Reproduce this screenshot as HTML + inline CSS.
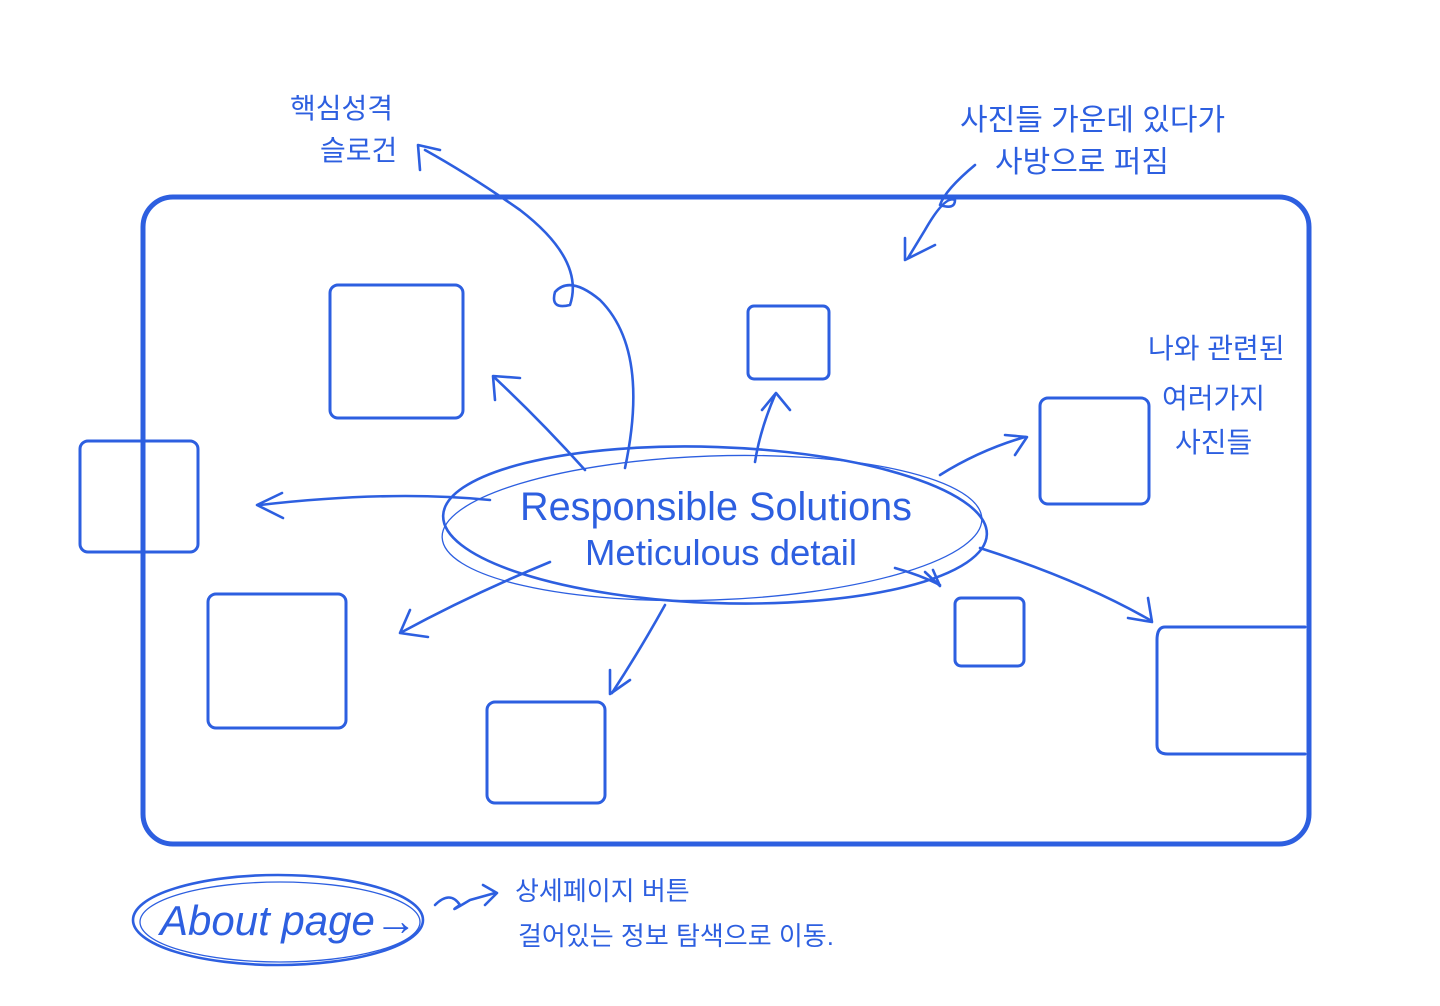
<!DOCTYPE html>
<html><head><meta charset="utf-8"><style>
html,body{margin:0;padding:0;background:#fff;width:1440px;height:1006px;overflow:hidden}
svg{display:block}
text{fill:#2d5fe0;font-family:"Liberation Sans","Noto Sans CJK KR",sans-serif}
</style></head><body>
<svg width="1440" height="1006" viewBox="0 0 1440 1006" xmlns="http://www.w3.org/2000/svg">
<g fill="none" stroke="#2d5fe0" stroke-linecap="round" stroke-linejoin="round">
<rect x="143" y="197" width="1166" height="647" rx="30" stroke-width="5"/>
<g stroke-width="3">
<rect x="330" y="285" width="133" height="133" rx="8"/>
<rect x="748" y="306" width="81" height="73" rx="6"/>
<rect x="80" y="441" width="118" height="111" rx="8"/>
<rect x="1040" y="398" width="109" height="106" rx="8"/>
<rect x="208" y="594" width="138" height="134" rx="8"/>
<rect x="487" y="702" width="118" height="101" rx="8"/>
<rect x="955" y="598" width="69" height="68" rx="6"/>
<path d="M1305 627 H1165 Q1157 627 1157 640 V745 Q1157 754 1168 754 H1305"/>
</g>
<g stroke-width="2.6">
<ellipse cx="715" cy="525" rx="272" ry="78" transform="rotate(2 715 525)"/>
<ellipse cx="712" cy="528" rx="270" ry="72" transform="rotate(-2 712 528)" stroke-width="1.3"/>
<path d="M585 470 Q540 420 495 378"/><path d="M495 400 L493 376 L520 378"/>
<path d="M755 462 Q760 430 775 395"/><path d="M762 410 L776 393 L790 410"/>
<path d="M490 500 Q390 490 260 505"/><path d="M282 493 L257 505 L283 518"/>
<path d="M940 475 Q980 450 1025 437"/><path d="M1005 435 L1027 437 L1015 455"/>
<path d="M550 562 Q470 595 402 632"/><path d="M410 610 L400 633 L428 637"/>
<path d="M665 605 Q640 650 612 693"/><path d="M610 670 L610 694 L630 680"/>
<path d="M895 568 Q920 575 940 585"/><path d="M925 572 L940 586 L933 570"/>
<path d="M980 548 Q1080 580 1150 620"/><path d="M1128 618 L1152 622 L1148 598"/>
<path d="M625 468 Q650 350 600 300 Q570 275 555 292 Q550 310 570 305 Q585 260 520 210 Q470 175 425 150"/><path d="M420 170 L418 145 L440 150"/>
<path d="M975 165 Q945 190 940 205 Q955 210 955 200 Q945 195 925 230 L908 258"/><path d="M905 238 L905 260 L935 245"/>
<ellipse cx="278" cy="920" rx="145" ry="45"/>
<ellipse cx="280" cy="922" rx="140" ry="40" stroke-width="1.3"/>
<path d="M435 905 Q450 890 460 905 Q445 915 470 900 L495 893"/><path d="M483 885 L497 893 L485 905"/>
</g>
</g>
<text x="520" y="520" font-size="40" textLength="392" lengthAdjust="spacingAndGlyphs">Responsible  Solutions</text>
<text x="585" y="565" font-size="36" textLength="272" lengthAdjust="spacingAndGlyphs">Meticulous detail</text>
<text x="160" y="935" font-size="42" font-style="italic">About page→</text>
<text x="290" y="118" font-size="28">핵심성격</text>
<text x="320" y="160" font-size="28">슬로건</text>
<text x="960" y="130" font-size="30">사진들 가운데 있다가</text>
<text x="995" y="172" font-size="30">사방으로 퍼짐</text>
<text x="1148" y="358" font-size="28">나와 관련된</text>
<text x="1162" y="408" font-size="28">여러가지</text>
<text x="1175" y="452" font-size="28">사진들</text>
<text x="515" y="900" font-size="26">상세페이지 버튼</text>
<text x="518" y="945" font-size="26">걸어있는 정보 탐색으로 이동.</text>
</svg>
</body></html>
